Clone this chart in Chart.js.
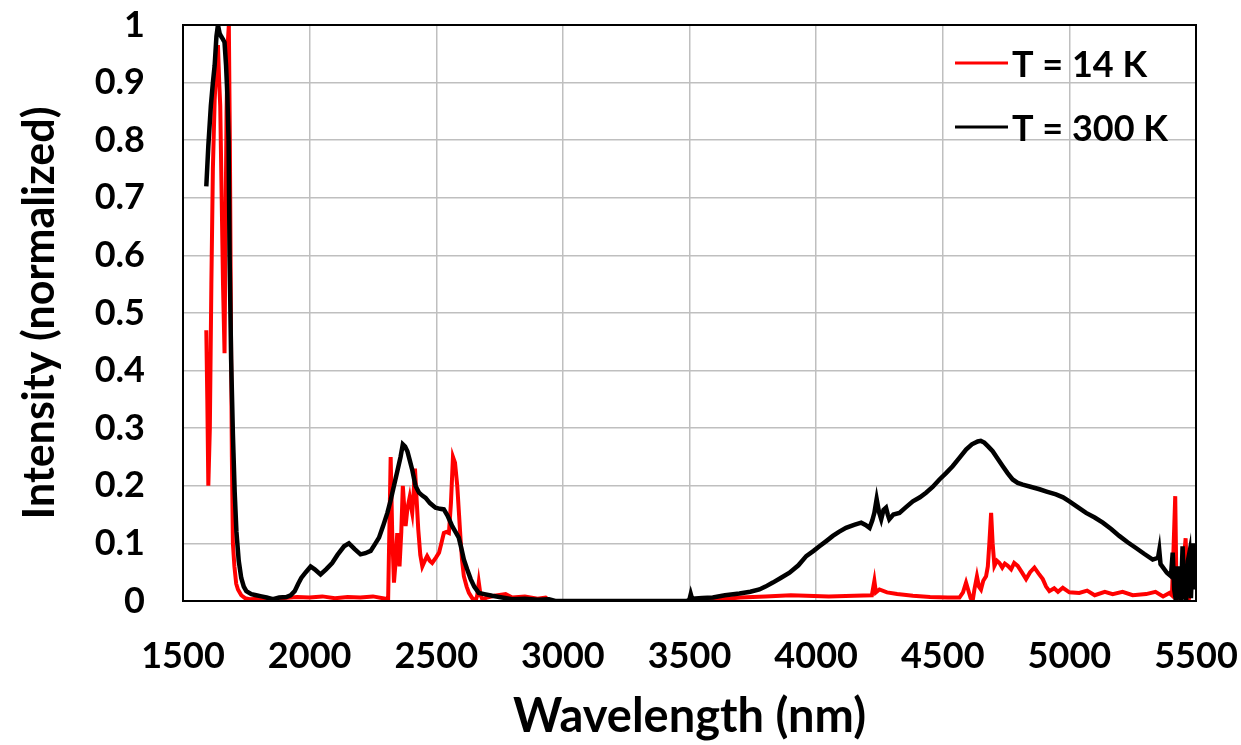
<!DOCTYPE html>
<html>
<head>
<meta charset="utf-8">
<script src="https://cdn.jsdelivr.net/npm/chart.js@4/dist/chart.umd.min.js"></script>
<style>
  body { margin: 0; background: #fff; }
  #wrap { width: 1241px; height: 745px; }
</style>
</head>
<body>
<div id="wrap"><canvas id="spectra" width="1241" height="745"></canvas></div>
<script>
// T = 14 K spectrum (wavelength nm, normalized intensity)
const wl14 = [1592, 1596, 1600, 1606, 1612, 1618, 1625, 1632, 1638, 1643, 1647, 1652, 1658, 1664, 1668, 1672, 1677, 1681, 1685, 1689, 1693, 1697, 1703, 1710, 1717, 1730, 1745, 1763,
  1800, 1850, 1900, 1950, 2000, 2050, 2100, 2150, 2200, 2250, 2300, 2310, 2316, 2320, 2326, 2333, 2340, 2346, 2351, 2355, 2362, 2368, 2374, 2379, 2386, 2395, 2400, 2405, 2411, 2416, 2422, 2429, 2437, 2445, 2455, 2464, 2474, 2484, 2498, 2511, 2520, 2530, 2540, 2550, 2558, 2566, 2574, 2583, 2590, 2596, 2602, 2609, 2620, 2629, 2642, 2655, 2662, 2668, 2675, 2682, 2700, 2730, 2774, 2800, 2850, 2900, 2932, 2950,
  3500, 3600, 3700, 3800, 3900, 3961, 4050, 4150, 4220, 4230, 4236, 4250, 4280, 4320, 4382, 4450, 4520, 4566, 4580, 4592, 4600, 4610, 4618, 4625, 4635, 4643, 4651, 4660, 4671, 4678, 4684, 4691, 4697, 4704, 4714, 4724, 4735, 4745, 4757, 4770, 4782, 4796, 4812, 4829, 4845, 4862, 4878, 4895, 4908, 4921, 4940, 4955, 4974, 5000, 5039, 5070, 5100, 5140, 5171, 5210, 5250, 5303, 5340, 5370, 5395, 5405, 5412, 5418, 5422, 5428, 5440, 5452, 5459, 5463, 5470, 5480, 5490, 5495, 5500];
const int14 = [0.47, 0.35, 0.20, 0.30, 0.55, 0.75, 0.87, 0.93, 0.965, 0.90, 0.86, 0.72, 0.55, 0.43, 0.65, 0.85, 0.97, 1.0, 0.80, 0.50, 0.25, 0.10, 0.06, 0.03, 0.02, 0.01, 0.005, 0.003,
  0.004, 0.003, 0.005, 0.007, 0.006, 0.008, 0.005, 0.007, 0.006, 0.008, 0.004, 0.003, 0.15, 0.25, 0.12, 0.032, 0.07, 0.118, 0.09, 0.06, 0.12, 0.20, 0.16, 0.13, 0.16, 0.18, 0.165, 0.153, 0.19, 0.23, 0.18, 0.124, 0.08, 0.06, 0.07, 0.078, 0.07, 0.066, 0.075, 0.084, 0.10, 0.118, 0.12, 0.118, 0.17, 0.25, 0.24, 0.20, 0.15, 0.107, 0.07, 0.043, 0.025, 0.014, 0.005, 0.0, 0.01, 0.032, 0.01, 0.003, 0.006, 0.009, 0.012, 0.006, 0.008, 0.004, 0.006, 0.0,
  0.0, 0.002, 0.006, 0.008, 0.01, 0.009, 0.008, 0.009, 0.01, 0.035, 0.015, 0.02, 0.015, 0.012, 0.009, 0.007, 0.006, 0.006, 0.015, 0.032, 0.02, 0.005, 0.0, 0.02, 0.043, 0.025, 0.02, 0.035, 0.043, 0.06, 0.10, 0.153, 0.10, 0.061, 0.07, 0.066, 0.058, 0.065, 0.061, 0.055, 0.066, 0.061, 0.05, 0.038, 0.05, 0.058, 0.048, 0.038, 0.025, 0.017, 0.022, 0.016, 0.023, 0.015, 0.014, 0.018, 0.01, 0.016, 0.012, 0.016, 0.01, 0.012, 0.016, 0.008, 0.014, 0.01, 0.10, 0.182, 0.05, 0.0, 0.02, 0.07, 0.109, 0.06, 0.0, 0.02, 0.08, 0.095, 0.04];

// T = 300 K spectrum
const wl300 = [1592, 1600, 1610, 1618, 1625, 1632, 1638, 1645, 1651, 1658, 1664, 1670, 1675, 1680, 1684, 1690, 1697, 1704, 1711, 1720, 1730, 1740, 1750, 1770, 1789, 1810, 1830, 1855, 1880, 1908, 1925, 1941, 1955, 1967, 1985, 2004, 2020, 2043, 2065, 2089, 2110, 2136, 2155, 2178, 2201, 2220, 2241, 2260, 2274, 2290, 2307, 2320, 2333, 2346, 2359, 2368, 2377, 2386, 2395, 2405, 2418, 2432, 2445, 2458, 2475, 2497, 2515, 2530, 2545, 2563, 2576, 2589, 2600, 2609, 2622, 2636, 2650, 2668, 2690, 2721, 2760, 2800, 2850, 2900, 2945, 2970,
  3490, 3500, 3505, 3510, 3550, 3592, 3640, 3697, 3740, 3776, 3800, 3829, 3860, 3895, 3930, 3961, 3990, 4013, 4040, 4066, 4090, 4118, 4150, 4178, 4195, 4211, 4222, 4230, 4239, 4248, 4257, 4266, 4276, 4283, 4289, 4305, 4329, 4355, 4382, 4410, 4434, 4460, 4487, 4513, 4539, 4565, 4592, 4615, 4638, 4650, 4664, 4680, 4697, 4717, 4737, 4756, 4776, 4796, 4816, 4850, 4882, 4910, 4947, 4975, 5000, 5033, 5066, 5100, 5132, 5165, 5197, 5230, 5263, 5295, 5329, 5350, 5355, 5360, 5385, 5401, 5408, 5414, 5421, 5428, 5434, 5440, 5447, 5454, 5461, 5468, 5474, 5480, 5488, 5494, 5500];
const int300 = [0.72, 0.79, 0.86, 0.90, 0.93, 0.98, 1.0, 0.985, 0.98, 0.975, 0.97, 0.93, 0.88, 0.80, 0.60, 0.42, 0.29, 0.19, 0.12, 0.07, 0.04, 0.025, 0.017, 0.012, 0.01, 0.008, 0.006, 0.003, 0.006, 0.007, 0.01, 0.017, 0.03, 0.04, 0.05, 0.060, 0.055, 0.046, 0.055, 0.066, 0.08, 0.095, 0.100, 0.09, 0.081, 0.083, 0.087, 0.10, 0.11, 0.13, 0.153, 0.175, 0.20, 0.225, 0.25, 0.272, 0.268, 0.26, 0.245, 0.228, 0.20, 0.188, 0.183, 0.179, 0.17, 0.162, 0.16, 0.159, 0.148, 0.13, 0.12, 0.11, 0.09, 0.072, 0.055, 0.038, 0.025, 0.014, 0.012, 0.009, 0.006, 0.003, 0.004, 0.002, 0.003, 0.0,
  0.0, 0.003, 0.012, 0.004, 0.005, 0.006, 0.01, 0.013, 0.016, 0.02, 0.025, 0.032, 0.04, 0.049, 0.062, 0.078, 0.087, 0.095, 0.104, 0.113, 0.12, 0.127, 0.132, 0.136, 0.132, 0.127, 0.14, 0.153, 0.177, 0.155, 0.142, 0.158, 0.162, 0.15, 0.142, 0.15, 0.153, 0.163, 0.173, 0.18, 0.188, 0.198, 0.211, 0.222, 0.234, 0.248, 0.263, 0.272, 0.277, 0.278, 0.275, 0.268, 0.26, 0.247, 0.234, 0.222, 0.211, 0.205, 0.202, 0.198, 0.194, 0.19, 0.185, 0.18, 0.173, 0.163, 0.153, 0.145, 0.136, 0.125, 0.113, 0.102, 0.092, 0.082, 0.072, 0.075, 0.088, 0.064, 0.049, 0.043, 0.084, 0.02, 0.0, 0.06, 0.038, 0.0, 0.095, 0.01, 0.0, 0.07, 0.084, 0.005, 0.10, 0.02, 0.10];

const seriesNames = ['T = 14 K', 'T = 300 K'];
const seriesColors = ['#ff0000', '#000000'];

const xTicks = [1500, 2000, 2500, 3000, 3500, 4000, 4500, 5000, 5500];
const yTicks = [0, 0.1, 0.2, 0.3, 0.4, 0.5, 0.6, 0.7, 0.8, 0.9, 1];

const FONT = 'Lato, "Open Sans", sans-serif';

function toPoints(xs, ys) {
    return xs.map((x, i) => ({ x: x, y: ys[i] }));
}

// tira o espaço extra que o Chart.js reserva para os rótulos nas pontas
function noLabelOverflow(scale) {
    scale.paddingTop = 0;
    scale.paddingBottom = 0;
    scale.paddingLeft = 0;
    scale.paddingRight = 0;
}

// borda preta em volta da area do grafico + legenda dentro do grafico
const frameAndLegend = {
    id: 'frameAndLegend',
    afterDatasetsDraw(chart) {
        const { ctx, chartArea } = chart;
        ctx.save();
        ctx.strokeStyle = '#000';
        ctx.lineWidth = 2;
        ctx.strokeRect(chartArea.left, chartArea.top, chartArea.right - chartArea.left, chartArea.bottom - chartArea.top);

        ctx.font = 'bold 36px ' + FONT;
        ctx.textBaseline = 'middle';
        ctx.textAlign = 'left';
        chart.data.datasets.forEach((ds, i) => {
            const y = 63 + i * 64;
            ctx.strokeStyle = ds.borderColor;
            ctx.lineWidth = 3;
            ctx.beginPath();
            ctx.moveTo(955, y);
            ctx.lineTo(1008, y);
            ctx.stroke();
            ctx.fillStyle = '#000';
            ctx.fillText(ds.label, 1012, y + 2);
        });
        ctx.restore();
    }
};

new Chart(document.getElementById('spectra'), {
    type: 'line',
    data: {
        datasets: [
            {
                label: seriesNames[0],
                data: toPoints(wl14, int14),
                borderColor: seriesColors[0],
                borderWidth: 4,
                pointRadius: 0,
                tension: 0,
                order: 1
            },
            {
                label: seriesNames[1],
                data: toPoints(wl300, int300),
                borderColor: seriesColors[1],
                borderWidth: 4.5,
                pointRadius: 0,
                tension: 0,
                order: 0
            }
        ]
    },
    options: {
        responsive: false,
        animation: false,
        layout: { padding: { top: 25, right: 45, left: 0, bottom: 0 } },
        plugins: {
            legend: { display: false },
            tooltip: { enabled: false }
        },
        scales: {
            x: {
                type: 'linear',
                min: xTicks[0],
                max: xTicks[xTicks.length - 1],
                afterFit: (scale) => { scale.height = 144; noLabelOverflow(scale); },
                afterBuildTicks: (scale) => { scale.ticks = xTicks.map(v => ({ value: v })); },
                grid: { color: '#bfbfbf', lineWidth: 1.5, drawTicks: false },
                border: { display: false },
                ticks: {
                    padding: 34,
                    color: '#000',
                    font: { family: FONT, size: 36, weight: 'bold' },
                    callback: (v) => String(v)
                },
                title: {
                    display: true,
                    text: 'Wavelength (nm)',
                    color: '#000',
                    font: { family: FONT, size: 47, weight: 'bold' },
                    padding: { top: 0, bottom: 0 }
                }
            },
            y: {
                min: yTicks[0],
                max: yTicks[yTicks.length - 1],
                afterFit: (scale) => { scale.width = 183; noLabelOverflow(scale); },
                afterBuildTicks: (scale) => { scale.ticks = yTicks.map(v => ({ value: v })); },
                grid: { color: '#bfbfbf', lineWidth: 1.5, drawTicks: false },
                border: { display: false },
                ticks: {
                    padding: 38,
                    color: '#000',
                    font: { family: FONT, size: 36, weight: 'bold' },
                    callback: (v) => String(Number(v.toFixed(1)))
                },
                title: {
                    display: true,
                    text: 'Intensity (normalized)',
                    color: '#000',
                    font: { family: FONT, size: 43, weight: 'bold' },
                    padding: { top: 14, bottom: 0 }
                }
            }
        }
    },
    plugins: [frameAndLegend]
});
</script>
</body>
</html>
